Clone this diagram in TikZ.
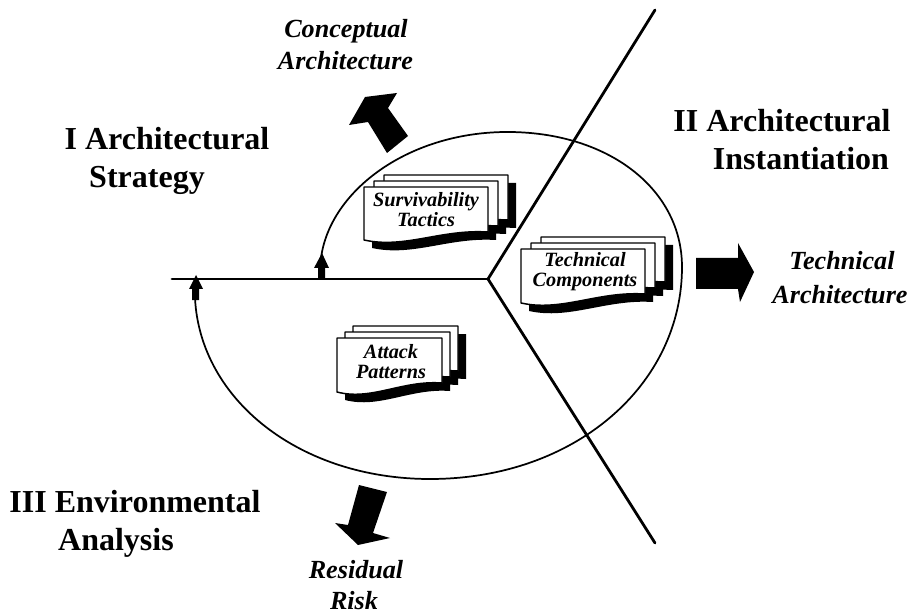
\documentclass[tikz,border=0pt]{standalone}
\usepackage{fontspec}
\setmainfont{Liberation Serif}
\tikzset{
  axisline/.style={line width=2.1pt,line cap=round,line join=miter},
  spiral/.style={line width=1.3pt},
  marker/.style={fill=black},
  bigarrow/.style={fill=black},
  heading/.style={font=\fontsize{24}{28}\selectfont\bfseries,inner sep=0pt,anchor=base},
  outcome/.style={font=\fontsize{19.6}{24}\selectfont\bfseries\itshape,inner sep=0pt,anchor=base},
  doclabel/.style={font=\fontsize{15.2}{15}\selectfont\bfseries\itshape,inner sep=0pt,align=center},
  sheet/.style={draw=black,fill=white,line width=1.1pt,line join=round},
  sheetshadow/.style={fill=black}
}
\newcommand{\pagepath}[7]{%
  (#1+#6,#2+#7) -- (#1+#3+#6,#2+#7) -- (#1+#3+#6,#2+#4+#7)
  .. controls (#1+0.62*#3+#6,#2+#4-3+#7) and (#1+0.33*#3+#6,#2+#5+9+#7) .. (#1+#6,#2+#5+#7) -- cycle}
\newcommand{\docstack}[6]{%
  \fill[sheetshadow] \pagepath{#1}{#2}{#3}{#4}{#5}{#6+#6+8}{-12+8};
  \fill[sheetshadow] \pagepath{#1}{#2}{#3}{#4}{#5}{#6+8}{-6+8};
  \fill[sheetshadow] \pagepath{#1}{#2}{#3}{#4}{#5}{8}{8};
  \draw[sheet] \pagepath{#1}{#2}{#3}{#4}{#5}{#6+#6}{-12};
  \draw[sheet] \pagepath{#1}{#2}{#3}{#4}{#5}{#6}{-6};
  \draw[sheet] \pagepath{#1}{#2}{#3}{#4}{#5}{0}{0};
}
\begin{document}
\begin{tikzpicture}[x=0.75pt,y=-0.75pt]
\useasboundingbox (0,0) rectangle (911,613);
\coordinate (hub) at (488,279);
\coordinate (topend) at (655,10);
\coordinate (botend) at (655,543);
\coordinate (leftend) at (172,279);
\draw[spiral] (321,258) .. controls (330,190) and (410,131) .. (510,132)
  .. controls (610,133) and (682,190) .. (682,267)
  .. controls (682,385) and (575,479) .. (430,479)
  .. controls (300,479) and (200,400) .. (195,298);
\docstack{364}{187}{124}{45}{53}{10}
\docstack{521}{249}{124}{45}{54}{10}
\docstack{337}{338}{105}{45}{54}{8}
\draw[axisline] (hub) -- (topend);
\draw[axisline] (hub) -- (botend);
\draw[axisline] (hub) -- (leftend);
\fill[marker] (318,279) -- (318,268) -- (314,268) -- (322,253) -- (329,268) -- (325,268) -- (325,279) -- cycle;
\fill[marker] (192,300) -- (192,289) -- (189,289) -- (196,275) -- (203,289) -- (199,289) -- (199,300) -- cycle;
\fill[bigarrow] (387,153) -- (368,122) -- (349,125) -- (365,97) -- (397,93) -- (388,108) -- (408,136) -- cycle;
\fill[bigarrow] (696,258) -- (738,258) -- (738,243) -- (754,272) -- (740,302) -- (738,289) -- (696,289) -- cycle;
\fill[bigarrow] (359,485) -- (387,492) -- (373,533) -- (390,538) -- (358,545) -- (335,523) -- (348,525) -- cycle;
\node[doclabel] (survivability) at (426,210) {Survivability\\Tactics};
\node[doclabel] (components) at (585,272) {Technical\\Components};
\node[doclabel] (attack) at (391,362) {Attack\\Patterns};
\node[heading] (h1a) at (167,150) {I Architectural};
\node[heading] (h1b) at (147,188) {Strategy};
\node[heading] (h2a) at (782,132) {II Architectural};
\node[heading] (h2b) at (801,170) {Instantiation};
\node[heading] (h3a) at (135,512) {III Environmental};
\node[heading] (h3b) at (116,550) {Analysis};
\node[outcome] (o1a) at (346,38) {Conceptual};
\node[outcome] (o1b) at (345.5,70) {Architecture};
\node[outcome] (o2a) at (842,270) {Technical};
\node[outcome] (o2b) at (840,303) {Architecture};
\node[outcome] (o3a) at (356,578) {Residual};
\node[outcome] (o3b) at (354,609) {Risk};
\end{tikzpicture}
\end{document}
